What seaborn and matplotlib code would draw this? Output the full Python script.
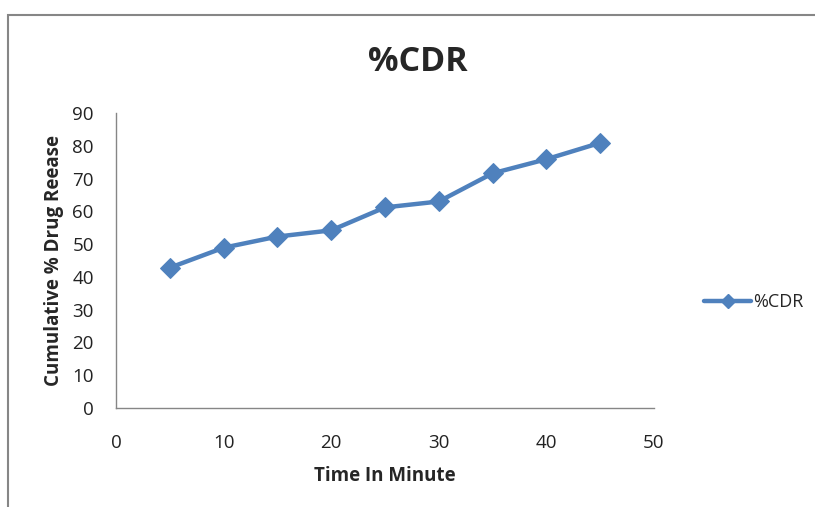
import matplotlib
matplotlib.use("Agg")
import matplotlib.pyplot as plt
import seaborn as sns
import pandas as pd
from matplotlib.patches import Rectangle
from matplotlib.lines import Line2D

time_min = [5, 10, 15, 20, 25, 30, 35, 40, 45]
cdr = [42.8, 48.9, 52.3, 54.2, 61.2, 63.0, 71.6, 75.9, 80.9]
x_ticks = [0, 10, 20, 30, 40, 50]
y_ticks = [0, 10, 20, 30, 40, 50, 60, 70, 80, 90]

sns.set_theme(style="white")
plt.rcParams['font.family'] = ['Open Sans', 'DejaVu Sans']

df = pd.DataFrame({"Time In Minute": time_min, "%CDR": cdr})

fig = plt.figure(figsize=(8.15, 5.07), dpi=100)
ax = fig.add_axes([116/815, 1-408/507, (654-116)/815, (408-113)/507])

color = "#4F81BD"
sns.lineplot(data=df, x="Time In Minute", y="%CDR", ax=ax, color=color,
             linewidth=3.2, marker="D", markersize=10, markeredgecolor=color,
             legend=False)

ax.set_xlim(0, 50)
ax.set_ylim(0, 90)
ax.set_xticks(x_ticks)
ax.set_yticks(y_ticks)
ax.tick_params(axis="both", length=0, labelsize=13.5, colors="#222222")
ax.tick_params(axis="x", pad=19)
ax.tick_params(axis="y", pad=16)
for s in ["top", "right"]:
    ax.spines[s].set_visible(False)
for s in ["left", "bottom"]:
    ax.spines[s].set_color("#868686")
    ax.spines[s].set_linewidth(1)

ax.set_xlabel("Time In Minute", fontsize=13.5, fontweight="bold", labelpad=10)
ax.set_ylabel("Cumulative % Drug Reease", fontsize=13.5, fontweight="bold", labelpad=6)
fig.text(418/815, 1-62/507, "%CDR", ha="center", va="center", fontsize=24.5, fontweight="bold")

handle = Line2D([], [], color=color, linewidth=3.2, marker="D", markersize=7, markeredgecolor=color)
leg = ax.legend([handle], ["%CDR"], loc="center left", frameon=False,
                fontsize=13, handlelength=2.6, handletextpad=0.1, borderaxespad=0,
                bbox_to_anchor=(697/815, 1-302/507), bbox_transform=fig.transFigure)

fig.patches.append(Rectangle((8/815, -0.1), 1.0, 1-15/507+0.1, transform=fig.transFigure,
                             fill=False, edgecolor="#868686", linewidth=1.5))

fig.savefig("out.png", dpi=100, facecolor="white")
